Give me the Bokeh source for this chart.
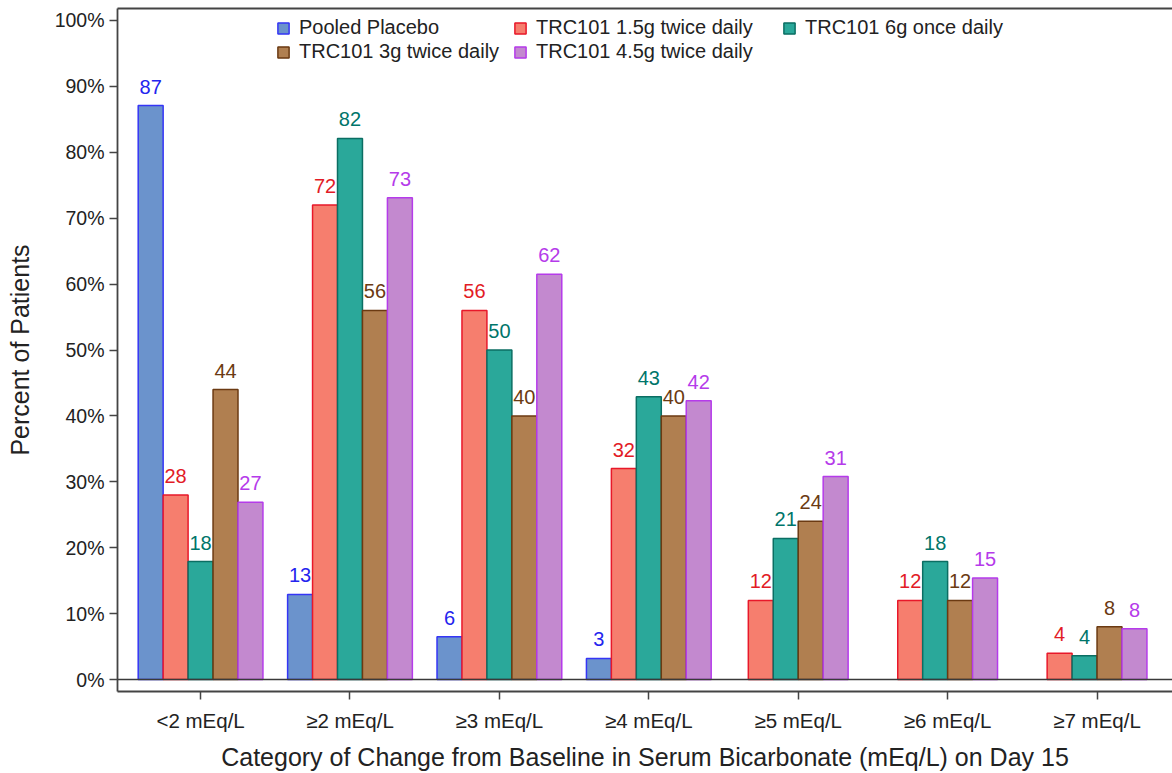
from bokeh.plotting import figure
from bokeh.models import (Range1d, FixedTicker, LinearAxis, Span, Legend,
                          LegendItem, ColumnDataSource)
from bokeh.core.properties import value
from bokeh.embed import file_html
from bokeh.resources import INLINE

# ---------------- data ----------------
categories = ["<2 mEq/L", "≥2 mEq/L", "≥3 mEq/L", "≥4 mEq/L",
              "≥5 mEq/L", "≥6 mEq/L", "≥7 mEq/L"]
series_names = ["Pooled Placebo", "TRC101 1.5g twice daily",
                "TRC101 6g once daily", "TRC101 3g twice daily",
                "TRC101 4.5g twice daily"]
pooled_placebo = [87.1, 12.9, 6.5, 3.2, None, None, None]
trc101_1_5g_bid = [28.0, 72.0, 56.0, 32.0, 12.0, 12.0, 4.0]
trc101_6g_qd = [17.9, 82.1, 50.0, 42.9, 21.4, 17.9, 3.6]
trc101_3g_bid = [44.0, 56.0, 40.0, 40.0, 24.0, 12.0, 8.0]
trc101_4_5g_bid = [26.9, 73.1, 61.5, 42.3, 30.8, 15.4, 7.7]
y_ticks = [0, 10, 20, 30, 40, 50, 60, 70, 80, 90, 100]

# ---------------- style ----------------
FONT = "Liberation Sans"
fills = ["#6b93cc", "#f67e6e", "#2aa89a", "#b07f50", "#c389cf"]
lines = ["#3535f5", "#e8182a", "#0b6e63", "#6b3a12", "#b53bea"]
text_colors = ["#2424ee", "#e21b26", "#00756a", "#6b3a12", "#b53bea"]
BAR_W = 0.167

series = [pooled_placebo, trc101_1_5g_bid, trc101_6g_qd, trc101_3g_bid,
          trc101_4_5g_bid]

p = figure(width=1172, height=773,
           x_range=Range1d(-0.556, 6.505), y_range=Range1d(-1.82, 101.82),
           output_backend="svg", toolbar_location=None,
           min_border_left=117, min_border_right=0, min_border_top=8,
           min_border_bottom=81)
p.outline_line_color = None
p.xgrid.visible = False
p.ygrid.visible = False
p.background_fill_color = "white"

# bar positions per category (missing series are omitted, remaining bars centred)
xs = [[] for _ in series]
tops = [[] for _ in series]
for ci in range(len(categories)):
    present = [si for si in range(len(series)) if series[si][ci] is not None]
    n = len(present)
    for k, si in enumerate(present):
        xs[si].append(ci + (k - (n - 1) / 2) * BAR_W)
        tops[si].append(series[si][ci])

renderers = []
for si in range(len(series)):
    src = ColumnDataSource(dict(x=xs[si], top=tops[si],
                                label=[str(int(round(v))) for v in tops[si]]))
    r = p.vbar(x="x", top="top", bottom=0, width=BAR_W, source=src,
               fill_color=fills[si], line_color=lines[si], line_width=1.5)
    renderers.append(r)
    p.text(x="x", y="top", text="label", source=src,
           text_align="center", text_baseline="alphabetic", y_offset=-19,
           text_font=value(FONT), text_font_size="20px",
           text_color=text_colors[si])

p.add_layout(Span(location=0, dimension="width", line_color="#3a3a3a",
                  line_width=1.5))

# axes
ax = p.xaxis[0]
ax.ticker = FixedTicker(ticks=list(range(len(categories))))
ax.major_label_overrides = {i: c for i, c in enumerate(categories)}
ax.axis_label = "Category of Change from Baseline in Serum Bicarbonate (mEq/L) on Day 15"
ay = p.yaxis[0]
ay.ticker = FixedTicker(ticks=y_ticks)
ay.major_label_overrides = {t: f"{t}%" for t in y_ticks}
ay.axis_label = "Percent of Patients"
for a in (ax, ay):
    a.axis_line_color = "#444444"
    a.axis_line_width = 1.8
    a.major_tick_line_color = "#444444"
    a.major_tick_line_width = 1.5
    a.major_tick_in = 0
    a.major_tick_out = 8
    a.minor_tick_line_color = None
    a.major_label_text_font = FONT
    a.major_label_text_color = "#222222"
    a.axis_label_text_font = FONT
    a.axis_label_text_font_size = "25px"
    a.axis_label_text_font_style = "normal"
    a.axis_label_text_color = "#222222"
ax.major_label_text_font_size = "20.5px"
ay.major_label_text_font_size = "19.5px"
ax.major_label_standoff = 9
ax.axis_label_standoff = 8
ay.major_label_standoff = 5
ay.axis_label_standoff = 18

top_axis = LinearAxis(ticker=FixedTicker(ticks=[]), major_tick_out=0,
                      major_tick_in=0, major_label_standoff=0,
                      major_tick_line_color=None, minor_tick_line_color=None,
                      major_label_text_font_size="0px",
                      axis_line_color="#444444", axis_line_width=1.8)
p.add_layout(top_axis, "above")

# legend: three columns, filled row-wise
legend_columns = [[0, 3], [1, 4], [2]]
legend_x = [159, 396, 665]
ROW_H = 24
for col, xpos in zip(legend_columns, legend_x):
    lg = Legend(items=[LegendItem(label=series_names[i], renderers=[renderers[i]])
                       for i in col],
                orientation="vertical",
                location=(xpos, 684 - 8.5 - ROW_H * len(col)),
                label_text_font=FONT, label_text_font_size="20px",
                label_text_color="#222222",
                glyph_width=14, glyph_height=14, label_standoff=9,
                label_height=ROW_H, spacing=0, padding=0, margin=0,
                background_fill_alpha=0, border_line_color=None)
    p.add_layout(lg, "center")

open("out.html", "w").write(file_html(p, INLINE))
